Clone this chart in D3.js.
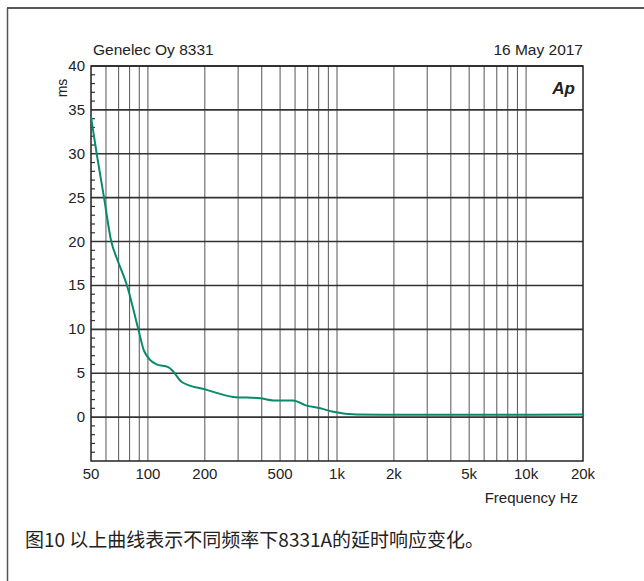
<!DOCTYPE html>
<html><head><meta charset="utf-8">
<script src="https://cdn.jsdelivr.net/npm/d3@7"></script>
<style>
body{margin:0;background:#fff;}
text{font-family:"Liberation Sans",Arial,Helvetica,sans-serif;fill:#222;}
</style></head>
<body><svg id="c" width="644" height="581"></svg>
<script>
const freqs = [50, 53.6, 58.6, 64, 69, 77.5, 89, 95.6, 111, 128, 136, 151, 205, 283, 392, 460, 586, 677, 816, 956, 1270, 2000, 5000, 10000, 20000];
const delayMs = [34.2, 30, 25, 20, 17.9, 15, 10, 7.5, 6, 5.7, 5.2, 4.0, 3.1, 2.3, 2.15, 1.9, 1.9, 1.37, 1.0, 0.6, 0.3, 0.27, 0.27, 0.28, 0.3];
const yTicks = [0, 5, 10, 15, 20, 25, 30, 35, 40];
const xTickVals = [50, 100, 200, 500, 1000, 2000, 5000, 10000, 20000];
const xTickLabels = ["50", "100", "200", "500", "1k", "2k", "5k", "10k", "20k"];
const gridFreqs = [60,70,80,90,100,200,300,400,500,600,700,800,900,1000,2000,3000,4000,5000,6000,7000,8000,9000,10000];

const svg = d3.select("#c");
const L = 91, R = 583, T = 66, B = 461;
const x = d3.scaleLog().domain([50, 20000]).range([L, R]);
const y = d3.scaleLinear().domain([-5, 40]).range([B, T]);

// outer frame
svg.append("line").attr("x1",7).attr("x2",644).attr("y1",8).attr("y2",8).attr("stroke","#222").attr("stroke-width",1.5);
svg.append("line").attr("x1",7.5).attr("x2",7.5).attr("y1",8).attr("y2",581).attr("stroke","#555").attr("stroke-width",1.5);

// vertical grid
svg.append("g").selectAll("line").data(gridFreqs).join("line")
  .attr("x1", d=>x(d)).attr("x2", d=>x(d)).attr("y1", T).attr("y2", B)
  .attr("stroke", "#555").attr("stroke-width", 1);

// horizontal grid
svg.append("g").selectAll("line").data(yTicks).join("line")
  .attr("x1", L).attr("x2", R).attr("y1", d=>y(d)).attr("y2", d=>y(d))
  .attr("stroke", "#333").attr("stroke-width", 1.6);

// minor y ticks
const minor = d3.range(-5, 40, 1).filter(v => v % 5 !== 0);
svg.append("g").selectAll("line").data(minor).join("line")
  .attr("x1", L).attr("x2", L+4).attr("y1", d=>y(d)).attr("y2", d=>y(d))
  .attr("stroke", "#333").attr("stroke-width", 1.2);

// plot frame
svg.append("rect").attr("x", L).attr("y", T).attr("width", R-L).attr("height", B-T)
  .attr("fill","none").attr("stroke","#222").attr("stroke-width",1.5);

// y labels
svg.append("g").selectAll("text").data(yTicks).join("text")
  .attr("x", 85).attr("y", d=>y(d)+5).attr("text-anchor","end")
  .attr("font-size", 15).text(d=>d);

// x labels
svg.append("g").selectAll("text").data(xTickVals).join("text")
  .attr("x", d=>x(d)).attr("y", 479).attr("text-anchor","middle")
  .attr("font-size", 15).text((d,i)=>xTickLabels[i]);

// curve
const line = d3.line().x((d,i)=>x(freqs[i])).y(d=>y(d)).curve(d3.curveMonotoneX);
svg.append("path").datum(delayMs).attr("d", line)
  .attr("fill","none").attr("stroke","#0a8a6a").attr("stroke-width",2);

// titles
svg.append("text").attr("x", 93).attr("y", 55).attr("font-size", 15.5).text("Genelec Oy 8331");
svg.append("text").attr("x", 583).attr("y", 55).attr("text-anchor","end").attr("font-size", 15.5).text("16 May 2017");
svg.append("text").attr("transform","translate(67,88) rotate(-90)").attr("text-anchor","middle").attr("font-size", 14).text("ms");
svg.append("text").attr("x", 575).attr("y", 94).attr("text-anchor","end").attr("font-size", 17)
  .attr("font-style","italic").attr("font-weight","bold").text("Ap");
svg.append("text").attr("x", 578).attr("y", 503).attr("text-anchor","end").attr("font-size", 15).text("Frequency Hz");
svg.append("text").attr("x", 25).attr("y", 547).attr("font-size", 19)
  .style("font-family", "'Noto Sans CJK SC','Liberation Sans',sans-serif").text("图10 以上曲线表示不同频率下8331A的延时响应变化。");
</script></body></html>
